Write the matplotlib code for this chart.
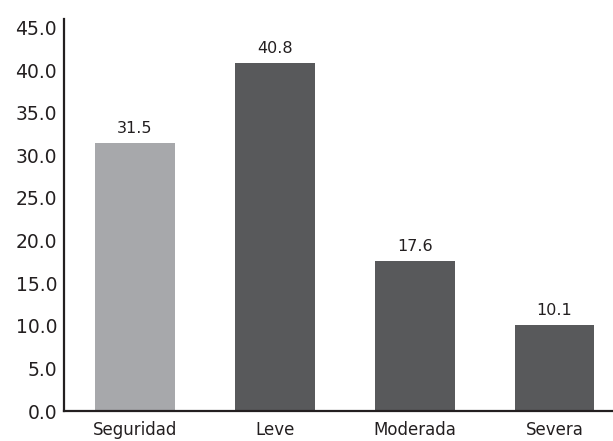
import numpy as np
import matplotlib
matplotlib.use("Agg")
import matplotlib.pyplot as plt

categories = ["Seguridad", "Leve", "Moderada", "Severa"]
values = [31.5, 40.8, 17.6, 10.1]
bar_colors = ["#a7a8ab", "#58595b", "#58595b", "#58595b"]
yticks = [0, 5, 10, 15, 20, 25, 30, 35, 40, 45]

plt.rcParams['font.family'] = ['DejaVu Sans']

fig = plt.figure(figsize=(6.13, 4.41), dpi=100)
ax = fig.add_axes([0.1044, 0.068, 0.8956, 0.889])

ind = np.arange(len(categories))
bars = ax.bar(ind, values, width=0.57, color=bar_colors, zorder=1)

for b, v in zip(bars, values):
	ax.annotate("%.1f" % v, (b.get_x() + b.get_width() / 2, b.get_height()),
		xytext=(0, 5), textcoords="offset points", ha="center", va="bottom",
		fontsize=11.5, color="#231f20")

ax.set_xlim(-0.507, 3.418)
ax.set_ylim(0, 46)
ax.set_yticks(yticks)
ax.set_yticklabels(["%.1f" % t for t in yticks], fontsize=13.5, color="#231f20")
ax.set_xticks(ind)
ax.set_xticklabels(categories, fontsize=12, color="#231f20")
ax.tick_params(axis="both", length=0)
ax.tick_params(axis="y", pad=5)
ax.tick_params(axis="x", pad=7)

for s in ["top", "right"]:
	ax.spines[s].set_visible(False)
for s in ["left", "bottom"]:
	ax.spines[s].set_linewidth(1.6)
	ax.spines[s].set_color("#231f20")
	ax.spines[s].set_zorder(3)

fig.savefig("out.png", dpi=100)
